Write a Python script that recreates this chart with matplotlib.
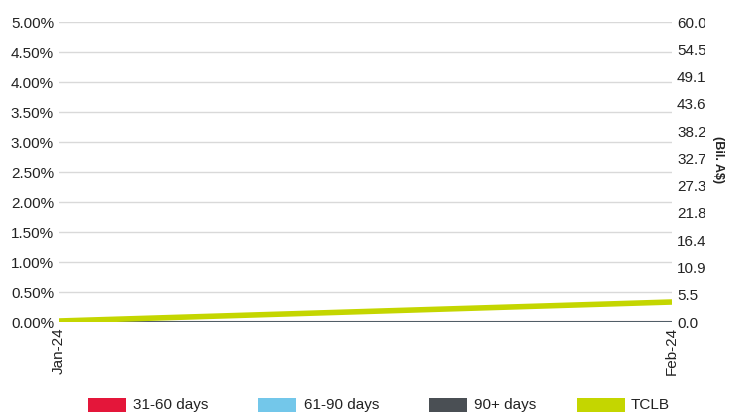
import matplotlib
matplotlib.use("Agg")
import matplotlib.pyplot as plt
from matplotlib.patches import Rectangle
from matplotlib.transforms import Bbox, TransformedBbox
from matplotlib.ticker import FuncFormatter, FixedLocator

plt.rcParams['font.family'] = ['Liberation Sans', 'DejaVu Sans']

# Data
months = ["Jan-24", "Feb-24"]
days_31_60 = [0.0, 0.0]      # % of balance
days_61_90 = [0.0, 0.0]
days_90_plus = [0.0, 0.0]
tclb = [0.2, 4.0]            # Bil. A$

left_ticks = [i * 0.5 for i in range(11)]
right_ticks = [i * 60 / 11 for i in range(12)]

series_names = ["31-60 days", "61-90 days", "90+ days", "TCLB"]
colors = ["#E4163A", "#73C7EA", "#4A4F54", "#C4D600"]

W, H = 729, 412
fig = plt.figure(figsize=(W / 100, H / 100), dpi=100)
ax = fig.add_axes([59 / W, 1 - 322 / H, (672 - 59) / W, 300 / H])
ax2 = ax.twinx()

x = list(range(len(months)))
ax.plot(x, days_31_60, color="#7A1F2E", lw=1.5, zorder=3)
ax.plot(x, days_61_90, color=colors[1], lw=1.2, zorder=3)
ax.plot(x, days_90_plus, color=colors[2], lw=1.2, zorder=4)
ax2.plot(x, tclb, color=colors[3], lw=4, solid_capstyle="butt", zorder=5)

ax.set_xlim(0, 1)
ax.set_ylim(0, 5)
ax2.set_ylim(0, 60)
ax.yaxis.set_major_locator(FixedLocator(left_ticks))
ax.yaxis.set_major_formatter(FuncFormatter(lambda v, p: f"{v:.2f}%"))
ax2.yaxis.set_major_locator(FixedLocator(right_ticks))
ax2.yaxis.set_major_formatter(FuncFormatter(lambda v, p: f"{v:.1f}"))
ax.set_xticks(x)
ax.set_xticklabels(months, rotation=90)

ax.grid(axis="y", color="#D9D9D9", lw=1)
ax.set_axisbelow(True)
for a in (ax, ax2):
    for s in a.spines.values():
        s.set_visible(False)
    a.tick_params(length=0, labelsize=11, colors="#222222")
ax.tick_params(axis="y", pad=3.6)
ax2.tick_params(axis="y", pad=3.6)
ax.tick_params(axis="x", pad=3.6)

ax2.set_ylabel("(Bil. A$)", rotation=270, fontsize=9, fontweight="bold",
               color="#222222", labelpad=6)
ax2.yaxis.set_label_coords(1.085, 0.543)

clip = TransformedBbox(Bbox([[0, 0], [705 / W, 1]]), fig.transFigure)
for lbl in ax2.get_yticklabels():
    lbl.set_clip_on(True)
    lbl.set_clip_box(clip)

# Legend (manual, at bottom)
rects = [(88, 126), (258, 296), (429, 467), (577, 625)]
text_x = [133, 304, 474, 631]
for (x0, x1), tx, name, c in zip(rects, text_x, series_names, colors):
    fig.add_artist(Rectangle((x0 / W, 0), (x1 - x0) / W, 14 / H,
                             transform=fig.transFigure, color=c, lw=0))
    fig.text(tx / W, 1 - 409 / H, name, fontsize=11, color="#222222",
             va="baseline", ha="left")

fig.savefig("out.png", dpi=100)
